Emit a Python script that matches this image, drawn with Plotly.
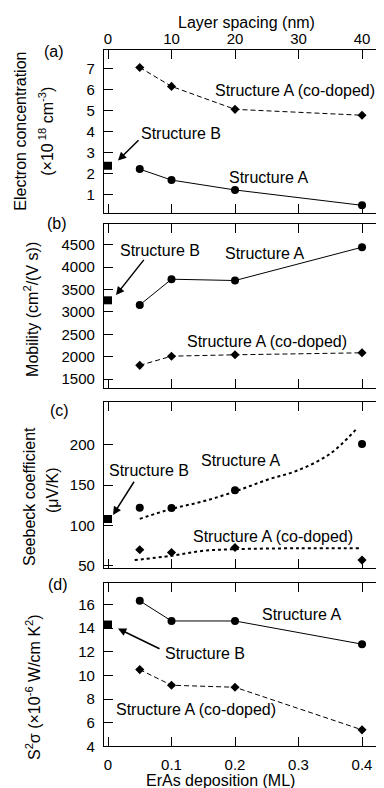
import plotly.graph_objects as go

# ---------------- data ----------------
x_ml = [0.05, 0.1, 0.2, 0.4]          # ErAs deposition (ML)
x_b = [0.0]                            # Structure B

# (a) electron concentration (x10^18 cm^-3)
n_A = [2.22, 1.70, 1.23, 0.50]
n_co = [7.05, 6.15, 5.06, 4.78]
n_B = [2.38]

# (b) mobility (cm^2/(V s))
mu_A = [3157, 3732, 3703, 4447]
mu_co = [1808, 2013, 2044, 2088]
mu_B = [3261]

# (c) Seebeck coefficient (uV/K)
S_A = [122, 121.7, 143.7, 201]
S_co = [69.9, 66.5, 72.7, 57.1]
S_B = [108]
fitA_x = [0.05, 0.1, 0.15, 0.2, 0.25, 0.3, 0.35, 0.39]
fitA_y = [108.2, 120.5, 129.9, 142.1, 156.4, 168.6, 189.0, 218.5]
fitCo_x = [0.042, 0.1, 0.15, 0.2, 0.3, 0.397]
fitCo_y = [57.1, 62.5, 68.6, 70.6, 71.8, 71.8]

# (d) power factor (x10^-6 W/cm K^2)
P_A = [16.3, 14.6, 14.6, 12.64]
P_co = [10.49, 9.17, 9.0, 5.4]
P_B = [14.3]

x_ticks = [0, 0.1, 0.2, 0.3, 0.4]
x_ticktext = ["0", "0.1", "0.2", "0.3", "0.4"]
top_ticks_nm = [0, 10, 20, 30, 40]

# ---------------- layout helpers ----------------
W, H = 384, 788
L = 96
FONT = "Liberation Sans, Arial, sans-serif"
XR = [-0.0063, 0.4472]

def dom(top_px, bot_px):
    return [1 - bot_px / H, 1 - top_px / H]

panels = {
    1: dict(dom=dom(42, 207), rng=[0.14, 7.9], tv=[1, 2, 3, 4, 5, 6, 7]),
    2: dict(dom=dom(218, 384), rng=[1300, 4970], tv=[1500, 2000, 2500, 3000, 3500, 4000, 4500]),
    3: dict(dom=dom(398, 566), rng=[47, 253], tv=[50, 100, 150, 200]),
    4: dict(dom=dom(581, 746), rng=[4, 17.8], tv=[4, 6, 8, 10, 12, 14, 16]),
}

fig = go.Figure()

def ax(i):
    return ("x" if i == 1 else f"x{i}"), ("y" if i == 1 else f"y{i}")

solid = dict(color="black", width=1)
dashed = dict(color="black", width=1, dash="5px,3px")
circ = dict(symbol="circle", size=8, color="black")
diam = dict(symbol="diamond", size=7, color="black")
sq = dict(symbol="square", size=8, color="black")

series = {
    1: (n_A, n_co, n_B),
    2: (mu_A, mu_co, mu_B),
    3: (S_A, S_co, S_B),
    4: (P_A, P_co, P_B),
}

for i, (yA, yC, yB) in series.items():
    xa, ya = ax(i)
    if i == 3:
        fig.add_trace(go.Scatter(x=fitA_x, y=fitA_y, mode="lines", line=dict(color="black", width=2, dash="3px,3px", shape="spline"), xaxis=xa, yaxis=ya))
        fig.add_trace(go.Scatter(x=fitCo_x, y=fitCo_y, mode="lines", line=dict(color="black", width=2, dash="3px,3px", shape="spline"), xaxis=xa, yaxis=ya))
        fig.add_trace(go.Scatter(x=x_ml, y=yA, mode="markers", marker=circ, xaxis=xa, yaxis=ya))
        fig.add_trace(go.Scatter(x=x_ml, y=yC, mode="markers", marker=diam, xaxis=xa, yaxis=ya))
    else:
        fig.add_trace(go.Scatter(x=x_ml, y=yA, mode="lines+markers", line=solid, marker=circ, xaxis=xa, yaxis=ya))
        fig.add_trace(go.Scatter(x=x_ml, y=yC, mode="lines+markers", line=dashed, marker=diam, xaxis=xa, yaxis=ya))
    fig.add_trace(go.Scatter(x=x_b, y=yB, mode="markers", marker=sq, xaxis=xa, yaxis=ya, cliponaxis=False))

layout = dict(
    width=W, height=H,
    margin=dict(l=L, r=0, t=0, b=0),
    paper_bgcolor="white", plot_bgcolor="white",
    showlegend=False,
    font=dict(family=FONT, size=16, color="black"),
)

for i, p in panels.items():
    xk = "xaxis" if i == 1 else f"xaxis{i}"
    yk = "yaxis" if i == 1 else f"yaxis{i}"
    ya_name = "y" if i == 1 else f"y{i}"
    xa_name = "x" if i == 1 else f"x{i}"
    layout[xk] = dict(
        domain=[0, 1], anchor=ya_name, range=XR,
        showline=True, linecolor="black", linewidth=1.2, mirror="ticks",
        ticks="inside", ticklen=9, tickwidth=1, tickcolor="black",
        tickvals=x_ticks, ticktext=x_ticktext,
        showticklabels=(i == 4), tickfont=dict(size=15),
        ticklabelstandoff=4,
        showgrid=False, zeroline=False,
    )
    layout[yk] = dict(
        domain=p["dom"], anchor=xa_name, range=p["rng"],
        showline=True, linecolor="black", linewidth=1.2, mirror=False,
        ticks="inside", ticklen=9, tickwidth=1, tickcolor="black",
        tickvals=p["tv"], tickfont=dict(size=15), ticklabelstandoff=5,
        showgrid=False, zeroline=False,
    )
    # right-side ticks (no line)
    rk = f"yaxis{i + 10}"
    layout[rk] = dict(
        domain=p["dom"], anchor=xa_name, overlaying=ya_name, side="right",
        range=p["rng"], tickvals=p["tv"], ticks="inside", ticklen=6,
        tickcolor="black", showticklabels=False, showline=False,
        showgrid=False, zeroline=False,
    )

# top axis: layer spacing (nm)
layout["xaxis20"] = dict(
    overlaying="x", anchor="y", side="top",
    range=[XR[0] * 100, XR[1] * 100], tickvals=top_ticks_nm,
    ticks="", showline=False, showgrid=False, zeroline=False,
    tickfont=dict(size=15), ticklabelstandoff=2,
)
fig.add_trace(go.Scatter(x=[], y=[], xaxis="x20", yaxis="y"))

fig.update_layout(**layout)

# ---------------- annotations ----------------
ann = []

def txt(text, x, y, i, size=16):
    xa, ya = ax(i)
    ann.append(dict(text=text, x=x, y=y, xref=xa, yref=ya, showarrow=False,
                    font=dict(size=size), xanchor="center", yanchor="middle"))

def arrow(x0, y0, x1, y1, i):
    xa, ya = ax(i)
    ann.append(dict(text="", x=x1, y=y1, ax=x0, ay=y0, xref=xa, yref=ya,
                    axref=xa, ayref=ya, showarrow=True, arrowhead=2,
                    arrowsize=1.1, arrowwidth=1.5, arrowcolor="black"))

def paper(text, px, py, size=16, angle=0):
    ann.append(dict(text=text, x=(px - L) / (W - L), y=1 - py / H,
                    xref="paper", yref="paper", showarrow=False,
                    textangle=angle, font=dict(size=size),
                    xanchor="center", yanchor="middle"))

# (a)
txt("Structure A (co-doped)", 0.2945, 5.97, 1)
txt("Structure A", 0.252, 1.83, 1)
txt("Structure B", 0.115, 3.9, 1)
arrow(0.0504, 3.66, 0.0157, 2.63, 1)
# (b)
txt("Structure B", 0.082, 4374, 2)
txt("Structure A", 0.2457, 4308, 2)
txt("Structure A (co-doped)", 0.2504, 2338, 2)
arrow(0.0583, 4197, 0.0126, 3378, 2)
# (c)
txt("Structure A", 0.2094, 180.9, 3)
txt("Structure B", 0.0646, 168.3, 3)
txt("Structure A (co-doped)", 0.26, 86.2, 3)
arrow(0.0425, 156, 0.0079, 113.1, 3)
# (d)
txt("Structure A", 0.304, 15.13, 4)
txt("Structure B", 0.1535, 11.88, 4)
txt("Structure A (co-doped)", 0.1386, 7.15, 4)
arrow(0.0835, 12.19, 0.0157, 13.96, 4)

# panel labels
paper("(a)", 46, 44)
paper("(b)", 49, 218)
paper("(c)", 51, 407)
paper("(d)", 50, 582)

# axis titles
paper("Layer spacing (nm)", 238, 15)
paper("ErAs deposition (ML)", 212, 780)
paper("Electron concentration", 13, 125, angle=-90)
paper("(×10<sup> 18</sup> cm<sup>-3</sup>)", 38, 125, angle=-90)
paper("Mobility (cm<sup>2</sup>/(V s))", 23, 305, angle=-90)
paper("Seebeck coefficient", 22, 494, angle=-90)
paper("(μV/K)", 44, 487, angle=-90)
paper("S<sup>2</sup>σ (×10<sup>-6</sup> W/cm K<sup>2</sup>)", 25, 686, angle=-90)

fig.update_layout(annotations=ann)

fig.write_html("out.html")
